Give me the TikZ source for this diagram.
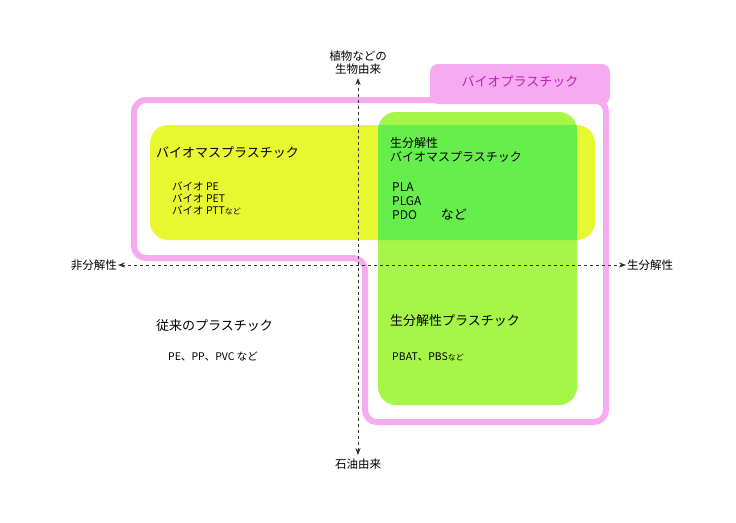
\documentclass[tikz,border=0pt]{standalone}
\usepackage{fontspec}
\setmainfont{Noto Sans CJK JP}
\usetikzlibrary{arrows.meta}
\definecolor{pk}{RGB}{246,170,240}
\definecolor{ye}{RGB}{232,248,48}
\definecolor{gr}{RGB}{166,246,72}
\definecolor{ov}{RGB}{102,238,76}
\definecolor{pu}{RGB}{190,30,190}
\tikzset{
  big/.style={font=\fontsize{13}{15}\selectfont, anchor=west, inner sep=0},
  small/.style={font=\fontsize{10.5}{12}\selectfont, anchor=west, inner sep=0, align=left},
  axis/.style={dashed, thick, black!80, {Stealth[length=7pt]}-{Stealth[length=7pt]}},
  axl/.style={font=\fontsize{11.5}{13}\selectfont, align=center, inner sep=1pt}
}
\begin{document}
\begin{tikzpicture}[x=1pt,y=-1pt]
\useasboundingbox (0,0) rectangle (736,522);
% pink frame
\fill[pk, rounded corners=8] (430,64) rectangle (610,104);
\draw[pk, line width=6pt, rounded corners=12] (134,100) -- (606,100) -- (606,422) -- (365,422) -- (365,258) -- (134,258) -- cycle;
\node[font=\fontsize{13}{15}\selectfont, text=pu] (tab) at (520,82) {バイオプラスチック};
% boxes
\fill[ye, rounded corners=18] (150,125) rectangle (595,240);
\fill[gr, rounded corners=18] (378,112) rectangle (577,405);
\begin{scope}
\clip[rounded corners=18] (378,112) rectangle (577,405);
\fill[ov, rounded corners=18] (150,125) rectangle (595,240);
\end{scope}
% axes
\coordinate (L) at (118,265); \coordinate (R) at (626,265);
\coordinate (T) at (358,78); \coordinate (B) at (358,455);
\draw[axis] (L) -- (R);
\draw[axis] (B) -- (T);
\node[axl, anchor=east] (nl) at (L) {非分解性};
\node[axl, anchor=west] (nr) at (R) {生分解性};
\node[axl, anchor=south] (nt) at (358,76) {植物などの\\生物由来};
\node[axl, anchor=north] (nb) at (358,458) {石油由来};
% texts
\node[big] (t1) at (156,153) {バイオマスプラスチック};
\node[small] (t1s) at (172,198) {バイオ PE\\バイオ PET\\バイオ PTT{\fontsize{8}{9}\selectfont など}};
\node[big, font=\fontsize{12}{14}\selectfont, align=left] (t2) at (390,150) {生分解性\\バイオマスプラスチック};
\node[small, font=\fontsize{12}{14}\selectfont] (t2s) at (392,201) {PLA\\PLGA\\PDO\hspace{2em}{\fontsize{13}{14}\selectfont など}};
\node[big] (t3) at (156,326) {従来のプラスチック};
\node[small] (t3s) at (168,357) {PE、PP、PVC など};
\node[big] (t4) at (390,321) {生分解性プラスチック};
\node[small] (t4s) at (392,357) {PBAT、PBS{\fontsize{8}{9}\selectfont など}};
\end{tikzpicture}
\end{document}
